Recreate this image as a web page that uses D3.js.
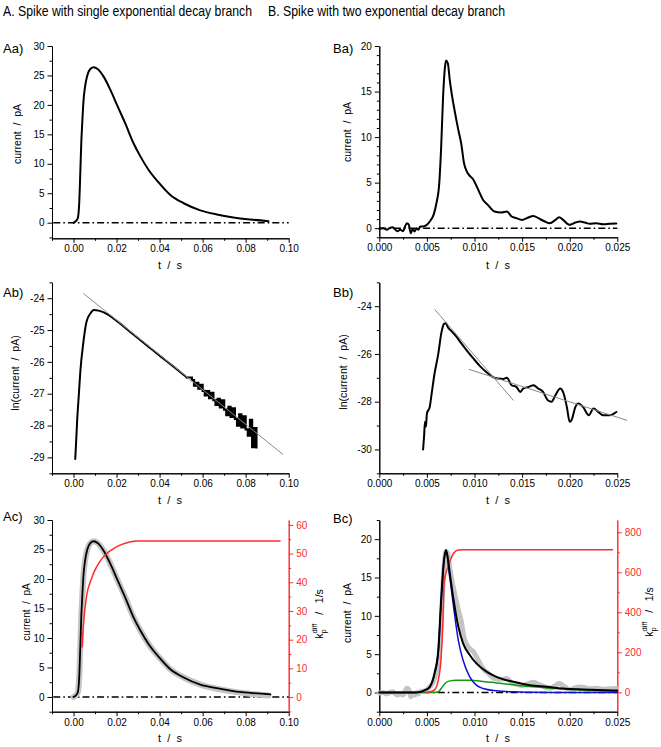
<!DOCTYPE html>
<html><head><meta charset="utf-8">
<script src="https://cdn.jsdelivr.net/npm/d3@7"></script>
<style>
body{margin:0;background:#fff}
svg text{font-family:"Liberation Sans",Arial,sans-serif}
</style></head><body>
<svg id="c" width="661" height="747"></svg>
<script>
// ---------- text ----------
const titles = ["A. Spike with single exponential decay branch", "B. Spike with two exponential decay branch"];
const panelLabels = ["Aa)", "Ab)", "Ac)", "Ba)", "Bb)", "Bc)"];

// ---------- Aa : measured current (also grey data in Ac) ----------
const aT = [0, 0.0012, 0.002, 0.0026, 0.0032, 0.0036, 0.004, 0.0046, 0.0054, 0.0064, 0.0078, 0.0094, 0.0112, 0.014, 0.0172, 0.0202, 0.024, 0.028, 0.031, 0.035, 0.0396, 0.045, 0.0512, 0.0589, 0.0666, 0.0743, 0.082, 0.0906];
const aI = [0, 0.3, 0.8, 3, 9, 13.5, 16.5, 20.5, 23.2, 25.0, 26.1, 26.4, 26.1, 24.8, 22.5, 20.0, 16.9, 13.4, 11.3, 8.9, 6.8, 4.7, 3.3, 2.1, 1.4, 0.9, 0.55, 0.25];

// ---------- Ab : ln(current) ----------
const abT = [0.0008, 0.0011, 0.0017, 0.0025, 0.0032, 0.0045, 0.006, 0.0079, 0.0094, 0.0117, 0.0156, 0.0202, 0.028, 0.0357, 0.0403, 0.0465, 0.0527,
  0.055, 0.056, 0.057, 0.058, 0.059, 0.060, 0.061, 0.062, 0.063, 0.064, 0.065, 0.066, 0.067, 0.068, 0.069, 0.070, 0.071, 0.072, 0.073, 0.074, 0.075, 0.076, 0.077, 0.078, 0.079, 0.080, 0.081, 0.082, 0.083, 0.084, 0.085];
const abV = [-29.05, -28.67, -27.83, -27.0, -26.27, -25.43, -24.75, -24.47, -24.37, -24.39, -24.5, -24.72, -25.15, -25.57, -25.82, -26.15, -26.49,
  -26.57, -26.75, -26.66, -26.84, -26.72, -26.91, -27.05, -26.92, -27.14, -26.97, -27.20, -27.35, -27.16, -27.43, -27.21, -27.50, -27.67, -27.41, -27.73, -27.46, -27.79, -28.0, -27.65, -28.06, -27.71, -28.12, -28.32, -27.82, -28.68, -28.08, -28.69];
const abFitT = [0.0048, 0.0972];
const abFitV = [-23.86, -28.9];

// ---------- Ac : fit + rate constant ----------
const acFitT = [0, 0.0012, 0.002, 0.0026, 0.0032, 0.0036, 0.004, 0.0046, 0.0054, 0.0064, 0.0078, 0.0094, 0.0112, 0.014, 0.0172, 0.0202, 0.024, 0.028, 0.031, 0.035, 0.0396, 0.045, 0.0512, 0.0589, 0.0666, 0.0743, 0.082, 0.0915];
const acFitI = [0, 0.3, 0.8, 3, 9, 13.5, 16.5, 20.5, 23.2, 25.0, 26.1, 26.4, 26.1, 24.8, 22.5, 20.0, 16.9, 13.4, 11.3, 8.9, 6.8, 4.7, 3.3, 2.1, 1.5, 1.0, 0.7, 0.45];
const acKT = [0.004, 0.0045, 0.0052, 0.0063, 0.0075, 0.0087, 0.01, 0.0117, 0.0135, 0.0156, 0.018, 0.0202, 0.0225, 0.0249, 0.0275, 0.0295, 0.05, 0.075, 0.096];
const acKV = [17.5, 24, 30, 36.2, 39.5, 42, 44.3, 46.6, 48.5, 50.1, 51.4, 52.4, 53.2, 53.8, 54.2, 54.4, 54.4, 54.4, 54.4];

// ---------- Ba : measured current (also grey data in Bc) ----------
const bT = [0, 0.0004, 0.0008, 0.0011, 0.0014, 0.0016, 0.0019, 0.0022, 0.0025, 0.0027, 0.0029, 0.0031, 0.0033, 0.0035, 0.0037, 0.0039, 0.0041, 0.0043, 0.0046, 0.005, 0.0053, 0.0057, 0.006, 0.0063, 0.0065, 0.0067, 0.0069, 0.007, 0.0072, 0.0074, 0.0076, 0.0079, 0.0083, 0.0086, 0.0089, 0.0093, 0.0099, 0.0104, 0.0109, 0.0114, 0.0121, 0.0128, 0.0134, 0.0139, 0.0144, 0.015, 0.0155, 0.0162, 0.0167, 0.0174, 0.0179, 0.0185, 0.0189, 0.0193, 0.02, 0.0206, 0.0211, 0.0216, 0.0221, 0.0228, 0.0235, 0.0242, 0.0249];
const bI = [-0.07, 0, -0.18, 0.04, 0.1, -0.07, -0.33, -0.18, -0.33, 0.18, 0.55, 0.37, -0.55, -0.11, -0.37, 0, -0.18, 0.18, 0.18, 0.37, 0.73, 1.46, 2.74, 4.94, 8.96, 14.44, 17.7, 18.4, 18.1, 16.27, 14.8, 12.98, 10.79, 9.32, 7.13, 6.03, 5.3, 4.2, 3.1, 2.56, 1.83, 1.72, 1.83, 1.28, 1.1, 0.91, 1.1, 1.35, 1.1, 0.73, 0.55, 0.91, 1.2, 0.91, 0.37, 0.62, 0.73, 0.62, 0.48, 0.55, 0.44, 0.48, 0.51];

// ---------- Bb : ln(current) ----------
const bbT = [0.0046, 0.0047, 0.0048, 0.0049, 0.005, 0.0053, 0.0055, 0.0058, 0.0062, 0.0065, 0.0068, 0.007, 0.0072, 0.0076, 0.0081, 0.0086, 0.0092, 0.0099, 0.0106, 0.0113, 0.012, 0.0125, 0.013, 0.0134, 0.0139, 0.0144, 0.0148, 0.0151, 0.0157, 0.0162, 0.0167, 0.0172, 0.0177, 0.0181, 0.0185, 0.019, 0.0193, 0.0197, 0.02, 0.0202, 0.0206, 0.0209, 0.0214, 0.022, 0.0225, 0.023, 0.0235, 0.0242, 0.0249];
const bbV = [-30, -29.47, -28.84, -29.05, -28.5, -28.22, -27.66, -26.83, -25.99, -25.16, -24.74, -24.71, -24.88, -25.05, -25.28, -25.55, -25.86, -26.2, -26.52, -26.78, -26.98, -27.03, -27.05, -27.0, -27.31, -27.38, -27.59, -27.45, -27.38, -27.31, -27.45, -27.59, -27.94, -28.0, -27.73, -27.45, -27.59, -28.22, -28.84, -28.77, -28.22, -28.08, -28.22, -28.57, -28.29, -28.43, -28.57, -28.57, -28.43];
const bbFit1T = [0.00585, 0.01408];
const bbFit1V = [-24.15, -27.94];
const bbFit2T = [0.00945, 0.026];
const bbFit2V = [-26.65, -28.78];

// ---------- Bc : fit, fast (blue) & slow (green) components, rate constant ----------
const bcFitT = [0, 0.0039, 0.0048, 0.0053, 0.0058, 0.0062, 0.0065, 0.0068, 0.007, 0.0071, 0.0074, 0.0078, 0.0083, 0.0088, 0.0095, 0.0102, 0.0113, 0.0123, 0.0141, 0.0158, 0.0176, 0.0193, 0.0214, 0.0246, 0.025];
const bcFitI = [0, 0, 0.3, 0.74, 2.5, 5.5, 12.1, 17.3, 18.6, 18.2, 15.6, 12.1, 8.6, 6.4, 4.9, 3.8, 2.7, 2.05, 1.4, 0.96, 0.74, 0.52, 0.39, 0.26, 0.25];
const bcFastT = [0, 0.0039, 0.0048, 0.0053, 0.0058, 0.0062, 0.0065, 0.0068, 0.007, 0.0071, 0.0074, 0.0078, 0.0083, 0.0088, 0.0095, 0.0102, 0.0109, 0.0123, 0.0141, 0.0158, 0.018, 0.025];
const bcFastI = [0, 0, 0.3, 0.7, 2.4, 5.4, 12, 17.2, 18.5, 18.2, 15.1, 11.2, 6.8, 4.2, 2.05, 0.96, 0.52, 0.22, 0.09, 0.04, 0.01, 0];
const bcSlowT = [0, 0.0057, 0.0062, 0.0065, 0.0069, 0.0074, 0.0081, 0.0095, 0.0109, 0.0123, 0.0141, 0.0158, 0.0176, 0.0193, 0.0211, 0.025];
const bcSlowI = [0, 0, 0.09, 0.52, 1.18, 1.52, 1.61, 1.61, 1.45, 1.25, 1.0, 0.78, 0.6, 0.45, 0.33, 0.15];
const bcKT = [0.005, 0.0053, 0.0058, 0.0062, 0.0065, 0.0067, 0.0068, 0.0071, 0.0074, 0.0078, 0.0083, 0.0088, 0.0245];
const bcKV = [0, 2, 12, 62, 178, 378, 545, 612, 653, 695, 712, 713, 713];

// ---------- ticks ----------
const aXTicks = [0, 0.02, 0.04, 0.06, 0.08, 0.10];
const aXMinor = [-0.01, 0.01, 0.03, 0.05, 0.07, 0.09];
const bXTicks = [0, 0.005, 0.010, 0.015, 0.020, 0.025];
const bXMinor = [0.0025, 0.0075, 0.0125, 0.0175, 0.0225];
const aaYTicks = [0, 5, 10, 15, 20, 25, 30];
const aaYMinor = [-2.5, 2.5, 7.5, 12.5, 17.5, 22.5, 27.5];
const abYTicks = [-29, -28, -27, -26, -25, -24];
const abYMinor = [-29.5, -28.5, -27.5, -26.5, -25.5, -24.5, -23.5];
const acKTicks = [0, 10, 20, 30, 40, 50, 60];
const acKMinor = [-5, 5, 15, 25, 35, 45, 55];
const baYTicks = [0, 5, 10, 15, 20];
const baYMinor = [-1, 1, 2, 3, 4, 6, 7, 8, 9, 11, 12, 13, 14, 16, 17, 18, 19];
const bbYTicks = [-30, -28, -26, -24];
const bbYMinor = [-31, -29, -27, -25, -23];
const bcYTicks = [0, 5, 10, 15, 20];
const bcYMinor = [-2.5, 2.5, 7.5, 12.5, 17.5, 22.5];
const bcKTicks = [0, 200, 400, 600, 800];
const bcKMinor = [100, 300, 500, 700];

// ================= drawing =================
const svg = d3.select("#c");
const RED = "#ff2a2a";
const numFmt = (dec) => (d) => dec === 0 ? String(d) : d.toFixed(dec);

function axisG(gen, tr, color) {
  const g = svg.append("g").attr("transform", tr).attr("font-size", 9)
    .attr("font-family", "Liberation Sans, Arial, sans-serif").attr("color", color || "#000");
  g.call(gen);
  g.selectAll("path.domain").attr("stroke-width", 1);
  g.selectAll(".tick line").attr("stroke-width", 1);
  return g;
}

function panel(o) {
  const x = d3.scaleLinear().domain(o.xDom).range(o.xR);
  const y = d3.scaleLinear().domain(o.yDom).range(o.yR);
  const b = o.yR[0], l = o.xR[0];
  axisG(d3.axisBottom(x).tickValues(o.xMinor).tickSize(2.5).tickFormat("").tickSizeOuter(0), `translate(0,${b})`);
  axisG(d3.axisBottom(x).tickValues(o.xTicks).tickSize(4.5).tickPadding(2.5).tickFormat(numFmt(o.xDec)).tickSizeOuter(0), `translate(0,${b})`);
  axisG(d3.axisLeft(y).tickValues(o.yMinor).tickSize(2.5).tickFormat("").tickSizeOuter(0), `translate(${l},0)`);
  axisG(d3.axisLeft(y).tickValues(o.yTicks).tickSize(4.5).tickPadding(3).tickFormat(numFmt(0)).tickSizeOuter(0), `translate(${l},0)`);
  let y2 = null;
  if (o.y2Dom) {
    y2 = d3.scaleLinear().domain(o.y2Dom).range(o.yR);
    const r = o.xR[1];
    axisG(d3.axisRight(y2).tickValues(o.y2Minor).tickSize(2.5).tickFormat("").tickSizeOuter(0), `translate(${r},0)`, RED);
    axisG(d3.axisRight(y2).tickValues(o.y2Ticks).tickSize(4.5).tickPadding(3).tickFormat(numFmt(0)).tickSizeOuter(0), `translate(${r},0)`, RED);
  }
  return { x, y, y2 };
}

function drawLine(p, ys, ts, vs, stroke, width, curve) {
  const data = ts.map((t, i) => [t, vs[i]]);
  const gen = d3.line().x(d => p.x(d[0])).y(d => ys(d[1])).curve(curve || d3.curveMonotoneX);
  return svg.append("path").datum(data).attr("d", gen)
    .attr("fill", "none").attr("stroke", stroke).attr("stroke-width", width)
    .attr("stroke-linejoin", "round").attr("stroke-linecap", "round");
}

function baseline(p, t0, t1) {
  svg.append("path").datum([[t0, 0], [t1, 0]])
    .attr("d", d3.line().x(d => p.x(d[0])).y(d => p.y(d[1])))
    .attr("stroke", "#000").attr("stroke-width", 1.4).attr("fill", "none")
    .attr("stroke-dasharray", "7,3,1.6,3");
}

function vlabel(txt, x, y, size) {
  svg.append("text").attr("transform", `translate(${x},${y}) rotate(-90)`)
    .attr("text-anchor", "middle").attr("font-size", size || 10.5)
    .style("white-space", "pre").text(txt);
}
function hlabel(txt, x, y) {
  svg.append("text").attr("x", x).attr("y", y).attr("text-anchor", "middle")
    .attr("font-size", 11).style("white-space", "pre").text(txt);
}
function kLabel(x, y) {
  const t = svg.append("text").attr("transform", `translate(${x},${y}) rotate(-90)`)
    .attr("text-anchor", "middle").attr("font-size", 10.5).style("white-space", "pre");
  t.append("tspan").text("k");
  t.append("tspan").attr("font-size", 7.5).attr("dy", 3).text("p");
  t.append("tspan").attr("font-size", 7.5).attr("dx", -4).attr("dy", -9).text("diff");
  t.append("tspan").attr("dy", 6).text("   /   1/s");
}

// titles & panel labels
const tFont = "Lato, 'Open Sans', sans-serif";
svg.append("text").attr("x", 3).attr("y", 16).attr("font-size", 14).attr("font-family", tFont)
  .attr("textLength", 249).attr("lengthAdjust", "spacingAndGlyphs").text(titles[0]);
svg.append("text").attr("x", 268).attr("y", 16).attr("font-size", 14).attr("font-family", tFont)
  .attr("textLength", 237).attr("lengthAdjust", "spacingAndGlyphs").text(titles[1]);
const plPos = [[3, 53], [3, 297], [3, 521], [333, 53], [333, 297], [333, 523]];
panelLabels.forEach((s, i) => svg.append("text").attr("x", plPos[i][0]).attr("y", plPos[i][1])
  .attr("font-size", 13).attr("font-family", tFont).text(s));

// ----- Aa -----
const pAa = panel({ xDom: [-0.01, 0.10], xR: [52, 288.7], yDom: [-2.65, 30], yR: [238.3, 46],
  xTicks: aXTicks, xMinor: aXMinor, xDec: 2, yTicks: aaYTicks, yMinor: aaYMinor });
baseline(pAa, -0.0094, 0.10);
drawLine(pAa, pAa.y, aT, aI, "#000", 2);
vlabel("current  /  pA", 21, 134);
hlabel("t  /  s", 170, 269);

// ----- Ab -----
const pAb = panel({ xDom: [-0.01, 0.10], xR: [52, 288.7], yDom: [-29.5, -23.5], yR: [473.3, 282.3],
  xTicks: aXTicks, xMinor: aXMinor, xDec: 2, yTicks: abYTicks, yMinor: abYMinor });
drawLine(pAb, pAb.y, abT.slice(0, 17), abV.slice(0, 17), "#000", 2);
drawLine(pAb, pAb.y, abT.slice(16), abV.slice(16), "#000", 2.2, d3.curveStepAfter).attr("stroke-linejoin", "miter").attr("stroke-linecap", "square");
drawLine(pAb, pAb.y, abFitT, abFitV, "#888", 1, d3.curveLinear);
vlabel("ln(current  /  pA)", 19, 373);
hlabel("t  /  s", 170, 504);

// ----- Ac -----
const pAc = panel({ xDom: [-0.01, 0.10], xR: [52, 288.7], yDom: [-2.5, 30], yR: [711.7, 520],
  xTicks: aXTicks, xMinor: aXMinor, xDec: 2, yTicks: aaYTicks, yMinor: aaYMinor,
  y2Dom: [-5.1, 61.7], y2Ticks: acKTicks, y2Minor: acKMinor });
baseline(pAc, -0.0094, 0.10);
drawLine(pAc, pAc.y, aT, aI, "#c4c4c4", 6);
drawLine(pAc, pAc.y, acFitT, acFitI, "#000", 1.8);
drawLine(pAc, pAc.y2, acKT, acKV, RED, 1.5);
vlabel("current  /  pA", 30, 612, 10);
kLabel(323, 614);
hlabel("t  /  s", 170, 742);

// ----- Ba -----
const pBa = panel({ xDom: [0, 0.025], xR: [379.3, 617.3], yDom: [-1, 20], yR: [237.3, 46],
  xTicks: bXTicks, xMinor: bXMinor, xDec: 3, yTicks: baYTicks, yMinor: baYMinor });
baseline(pBa, 0, 0.025);
drawLine(pBa, pBa.y, bT, bI, "#000", 2);
vlabel("current  /  pA", 351, 132);
hlabel("t  /  s", 498, 269);

// ----- Bb -----
const pBb = panel({ xDom: [0, 0.025], xR: [379.3, 617.3], yDom: [-31, -23], yR: [473.3, 282.3],
  xTicks: bXTicks, xMinor: bXMinor, xDec: 3, yTicks: bbYTicks, yMinor: bbYMinor });
drawLine(pBb, pBb.y, bbT, bbV, "#000", 2);
drawLine(pBb, pBb.y, bbFit1T, bbFit1V, "#888", 1, d3.curveLinear);
drawLine(pBb, pBb.y, bbFit2T, bbFit2V, "#888", 1, d3.curveLinear);
vlabel("ln(current  /  pA)", 347, 372);
hlabel("t  /  s", 498, 504);

// ----- Bc -----
const pBc = panel({ xDom: [0, 0.025], xR: [379.3, 617.3], yDom: [-2.5, 22.5], yR: [711.7, 520],
  xTicks: bXTicks, xMinor: bXMinor, xDec: 3, yTicks: bcYTicks, yMinor: bcYMinor,
  y2Dom: [-97, 861.5], y2Ticks: bcKTicks, y2Minor: bcKMinor });
baseline(pBc, 0, 0.025);
drawLine(pBc, pBc.y, bT, bI, "#c4c4c4", 5);
drawLine(pBc, pBc.y, bcSlowT, bcSlowI, "#119911", 1.5);
drawLine(pBc, pBc.y, bcFastT, bcFastI, "#1010d0", 1.5);
drawLine(pBc, pBc.y2, bcKT, bcKV, RED, 1.5);
drawLine(pBc, pBc.y, bcFitT, bcFitI, "#000", 2);
vlabel("current  /  pA", 351, 613);
kLabel(653, 612);
hlabel("t  /  s", 498, 742);
</script></body></html>
